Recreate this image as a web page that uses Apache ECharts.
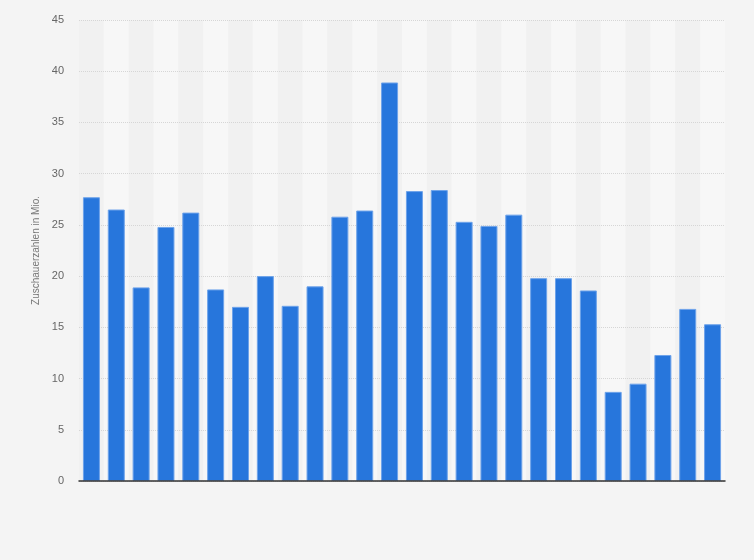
<!DOCTYPE html>
<html>
<head>
<meta charset="utf-8">
<script src="https://cdn.jsdelivr.net/npm/echarts@6/dist/echarts.min.js"></script>
<style>
  html, body { margin: 0; padding: 0; background: #f4f4f4; }
  #main { width: 754px; height: 560px; }
</style>
</head>
<body>
<div id="main"></div>
<script>
// Daten
var categories = ['1', '2', '3', '4', '5', '6', '7', '8', '9', '10', '11', '12', '13',
  '14', '15', '16', '17', '18', '19', '20', '21', '22', '23', '24', '25', '26'];
var zuschauer = [27.7, 26.5, 18.9, 24.8, 26.2, 18.7, 17.0, 20.0, 17.1, 19.0, 25.8, 26.4, 38.9,
  28.3, 28.4, 25.3, 24.9, 26.0, 19.8, 19.8, 18.6, 8.7, 9.5, 12.3, 16.8, 15.3];
var yTicks = [0, 45, 5];

var myChart = echarts.init(document.getElementById('main'));
var option = {
  backgroundColor: '#f4f4f4',
  animation: false,
  grid: { left: 79, right: 29, top: 20, bottom: 79 },
  xAxis: [{
    // Streifen im Hintergrund
    type: 'category',
    data: categories,
    z: 0,
    axisLine: { show: false },
    axisTick: { show: false },
    axisLabel: { show: false },
    splitArea: { show: true, areaStyle: { color: ['#f1f1f1', '#f7f7f7'] } }
  }, {
    // Achsenlinie unten, über den Gitterlinien
    type: 'category',
    data: categories,
    position: 'bottom',
    z: 3,
    axisLine: { lineStyle: { color: '#333', width: 1.5 } },
    axisTick: { show: false },
    axisLabel: { show: false }
  }],
  yAxis: {
    type: 'value',
    z: 1,
    min: yTicks[0],
    max: yTicks[1],
    interval: yTicks[2],
    name: 'Zuschauerzahlen in Mio.',
    nameLocation: 'middle',
    nameGap: 36,
    nameTextStyle: { color: '#777', fontSize: 10, fontFamily: 'Arial, Liberation Sans' },
    axisLine: { show: false },
    axisTick: { show: false },
    axisLabel: { color: '#666', fontSize: 11, margin: 15, fontFamily: 'Arial, Liberation Sans' },
    splitLine: { lineStyle: { color: '#d6d6d6', type: 'dotted', width: 1 } }
  },
  series: [{
    type: 'bar',
    data: zuschauer,
    barWidth: 17,
    z: 2,
    itemStyle: { color: '#2776dc', borderColor: '#6ea3ea', borderWidth: 1 }
  }]
};
myChart.setOption(option);
</script>
</body>
</html>
